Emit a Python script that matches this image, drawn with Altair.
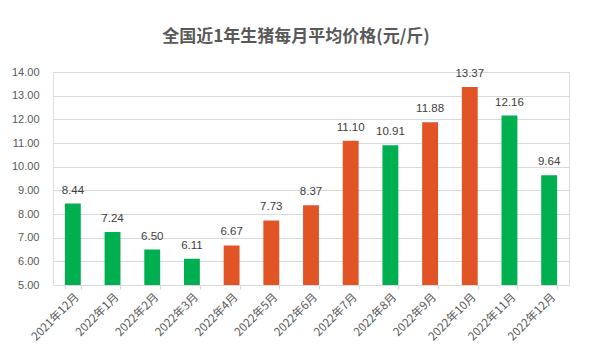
import altair as alt
import pandas as pd

months = ["2021年12月", "2022年1月", "2022年2月", "2022年3月", "2022年4月", "2022年5月",
          "2022年6月", "2022年7月", "2022年8月", "2022年9月", "2022年10月", "2022年11月", "2022年12月"]
prices = [8.44, 7.24, 6.50, 6.11, 6.67, 7.73, 8.37, 11.10, 10.91, 11.88, 13.37, 12.16, 9.64]
trend = ["跌", "跌", "跌", "跌", "涨", "涨", "涨", "涨", "跌", "涨", "涨", "跌", "跌"]
yticks = [5, 6, 7, 8, 9, 10, 11, 12, 13, 14]

df = pd.DataFrame({"month": months, "price": prices, "trend": trend})

FONT = "Liberation Sans"

base = alt.Chart(df).encode(
    x=alt.X("month:N", sort=months, title=None,
            scale=alt.Scale(paddingInner=0.6, paddingOuter=0.3),
            axis=alt.Axis(labelAngle=-45, labelAlign="right", labelBaseline="top",
                          labelFontSize=11.5, labelColor="#595959", labelFont="Noto Sans CJK SC",
                          labelPadding=2, tickBand="extent", tickSize=4, labelOverlap=False,
                          tickColor="#d9d9d9", domainColor="#d9d9d9", grid=False)),
    y=alt.Y("price:Q", title=None,
            scale=alt.Scale(domain=[5, 14], nice=False, zero=False),
            axis=alt.Axis(values=yticks, format=".2f", labelOverlap=False, tickCount=10,
                          labelFontSize=11, labelColor="#595959", labelFont=FONT,
                          labelPadding=14, domain=False, ticks=False,
                          gridColor="#d9d9d9", gridWidth=1)),
)

bars = base.mark_bar(clip=True).encode(
    color=alt.Color("trend:N", scale=alt.Scale(domain=["跌", "涨"], range=["#00B050", "#E05426"]),
                    legend=None),
)

labels = base.mark_text(dy=-13, fontSize=11.5, color="#404040", font=FONT).encode(
    text=alt.Text("price:Q", format=".2f"),
)

chart = (bars + labels).properties(
    width=516, height=213,
    padding={"left": 53, "top": 72, "right": 20, "bottom": 66},
    autosize=alt.AutoSizeParams(type="none"),
    title=alt.TitleParams("全国近1年生猪每月平均价格(元/斤)", fontSize=17, fontWeight="bold",
                          color="#595959", font="Noto Sans CJK SC", anchor="middle",
                          offset=20, dx=-15),
).configure_view(stroke=None).configure(background="white")

chart.save("out.html", embed_options={"renderer": "svg", "actions": False})
